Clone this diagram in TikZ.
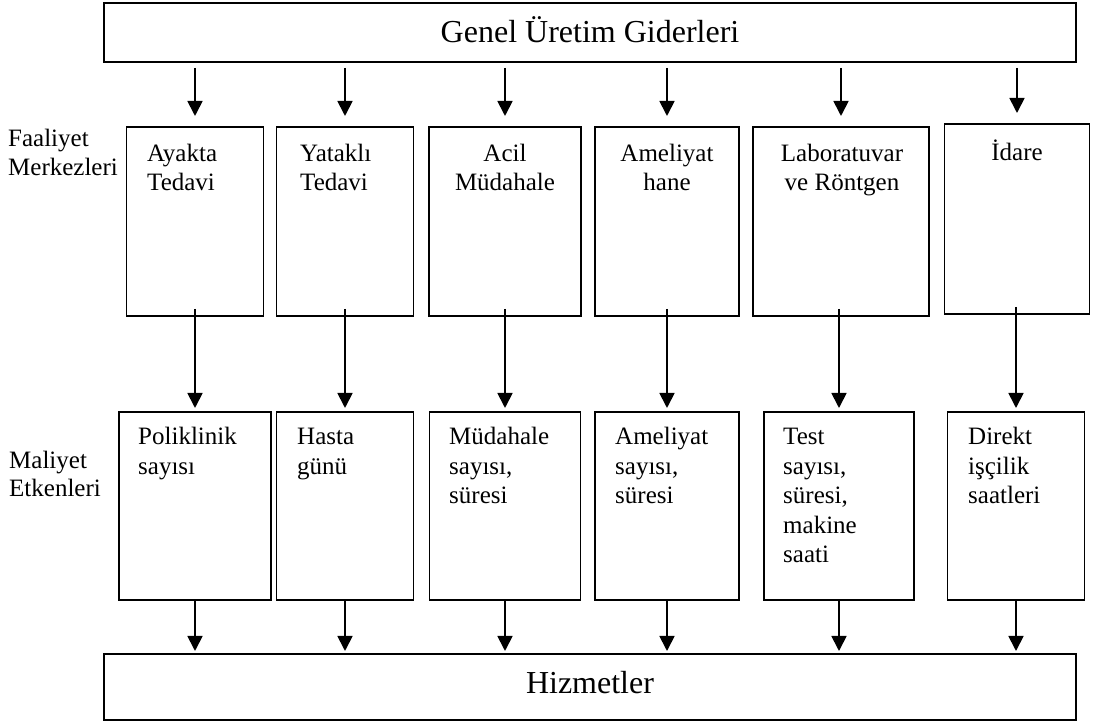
\documentclass[tikz,border=0pt]{standalone}
\usepackage{fontspec}
\setmainfont{Liberation Serif}
\usetikzlibrary{arrows.meta,calc,positioning}

\begin{document}
\begin{tikzpicture}[x=1pt,y=1pt,
  kutu/.style={draw,line width=1.8pt,inner sep=0pt,outer sep=0pt},
  yazi/.style={font=\fontsize{25}{28.5}\selectfont,inner sep=0pt,align=left},
  yazi2/.style={font=\fontsize{25}{29.5}\selectfont,inner sep=0pt,align=left},
  baslik/.style={font=\fontsize{32}{36}\selectfont,inner sep=0pt},
  ok/.style={-{Triangle[width=15pt,length=15pt]},line width=1.8pt}]
\useasboundingbox (0,0) rectangle (1096,722);
% ust ve alt seritler
\node[kutu,baslik,minimum width=972pt,minimum height=59pt,text height=21pt,text depth=0pt] (gider) at (590,689.5) {Genel Üretim Giderleri};
\node[kutu,baslik,minimum width=972pt,minimum height=66pt,text height=21pt,text depth=8pt] (hizmet) at (590,35) {Hizmetler};
% faaliyet merkezleri
\foreach \n/\cx/\cy/\w/\h in {1/195/500.5/137/189,2/345/500.5/137/189,3/505/500.5/152/189,
  4/667/500.5/144/189,5/841/500.5/176/189,6/1017/503/145/190}
  \node[kutu,minimum width=\w pt,minimum height=\h pt] (fm\n) at (\cx,\cy) {};
% maliyet etkenleri
\foreach \n/\cx/\w in {1/195/152,2/345/137,3/505/151,4/667/144,5/839/150,6/1016/137}
  \node[kutu,minimum width=\w pt,minimum height=188pt] (me\n) at (\cx,216) {};
% kutu yazilari (base = son satir)
\node[yazi,anchor=base west] (fm1y) at (147,531.5) {Ayakta\\Tedavi};
\node[yazi,anchor=base west] (fm2y) at (300,531.5) {Yataklı\\Tedavi};
\node[yazi,align=center,anchor=base] (fm3y) at (505,531.5) {Acil\\Müdahale};
\node[yazi,align=center,anchor=base] (fm4y) at (667,531.5) {Ameliyat\\hane};
\node[yazi,align=center,anchor=base] (fm5y) at (842,531.5) {Laboratuvar\\ve Röntgen};
\node[yazi,align=center,anchor=base] (fm6y) at (1017,561) {İdare};
\node[yazi2,anchor=base west] (me1y) at (138,247.5) {Poliklinik\\sayısı};
\node[yazi2,anchor=base west] (me2y) at (297,247.5) {Hasta\\günü};
\node[yazi2,anchor=base west] (me3y) at (449,218) {Müdahale\\sayısı,\\süresi};
\node[yazi2,anchor=base west] (me4y) at (615,218) {Ameliyat\\sayısı,\\süresi};
\node[yazi2,anchor=base west] (me5y) at (783,159) {Test\\sayısı,\\süresi,\\makine\\saati};
\node[yazi2,anchor=base west] (me6y) at (968,218) {Direkt\\işçilik\\saatleri};
% yan etiketler
\node[yazi,anchor=base west] (fmlbl) at (8,546.5) {Faaliyet\\Merkezleri};
\node[yazi,anchor=base west] (melbl) at (9,225) {Maliyet\\Etkenleri};
% oklar
\foreach \n in {1,...,6}{
  \draw[ok,shorten <=6pt,shorten >=11pt] (gider.south -| fm\n) -- (fm\n.north);
  \draw[ok,shorten <=-7pt,shorten >=4pt] (fm\n.south -| me\n) -- (me\n.north);
  \draw[ok,shorten >=3pt] (me\n.south) -- (hizmet.north -| me\n);
}
\end{tikzpicture}
\end{document}
